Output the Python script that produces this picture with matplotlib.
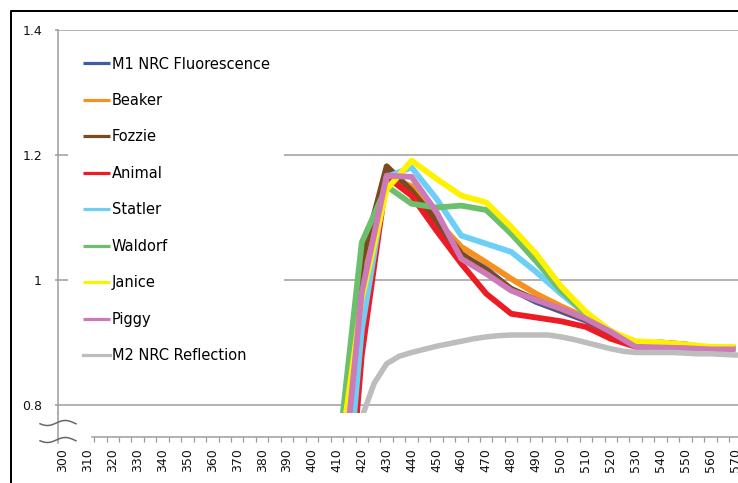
import matplotlib
matplotlib.use('Agg')
import matplotlib.pyplot as plt
import numpy as np
from matplotlib.lines import Line2D

# ---------------- data ----------------
wavelengths = [410, 420, 430, 440, 450, 460, 470, 480, 490, 500, 510, 520, 530, 540, 550, 560, 570]
m1_nrc_fluorescence = [0.62, 1.01, 1.175, 1.145, 1.090, 1.040, 1.018, 0.985, 0.965, 0.950, 0.935, 0.915, 0.895, 0.895, 0.893, 0.890, 0.890]
beaker = [0.61, 0.99, 1.165, 1.150, 1.095, 1.053, 1.028, 1.002, 0.978, 0.958, 0.940, 0.918, 0.898, 0.895, 0.893, 0.890, 0.890]
fozzie = [0.63, 1.03, 1.182, 1.143, 1.095, 1.042, 1.015, 0.986, 0.968, 0.952, 0.937, 0.916, 0.897, 0.900, 0.897, 0.890, 0.893]
animal = [0.40, 0.88, 1.165, 1.135, 1.079, 1.026, 0.978, 0.946, 0.940, 0.934, 0.925, 0.906, 0.893, 0.893, 0.892, 0.890, 0.891]
statler = [0.48, 0.92, 1.165, 1.180, 1.130, 1.071, 1.058, 1.045, 1.013, 0.978, 0.946, 0.918, 0.898, 0.895, 0.893, 0.890, 0.890]
waldorf = [0.70, 1.06, 1.150, 1.122, 1.116, 1.119, 1.112, 1.074, 1.030, 0.983, 0.946, 0.918, 0.898, 0.895, 0.893, 0.890, 0.890]
janice = [0.68, 0.97, 1.145, 1.191, 1.162, 1.135, 1.124, 1.085, 1.042, 0.990, 0.949, 0.918, 0.902, 0.900, 0.897, 0.893, 0.893]
piggy = [0.58, 0.98, 1.167, 1.165, 1.109, 1.034, 1.010, 0.983, 0.968, 0.954, 0.938, 0.917, 0.893, 0.892, 0.891, 0.889, 0.889]

reflection_wavelengths = [410, 415, 420, 425, 430, 435, 440, 445, 450, 455, 460, 465, 470, 475, 480, 485,
                          490, 495, 500, 505, 510, 515, 520, 525, 530, 535, 540, 545, 550, 555, 560, 565, 570]
m2_nrc_reflection = [0.55, 0.70, 0.78, 0.835, 0.866, 0.878, 0.884, 0.889, 0.894, 0.898, 0.902, 0.906, 0.909,
                     0.911, 0.912, 0.912, 0.912, 0.912, 0.909, 0.905, 0.900, 0.895, 0.890, 0.886, 0.884,
                     0.884, 0.884, 0.884, 0.883, 0.882, 0.882, 0.881, 0.880]

series_names = ["M1 NRC Fluorescence", "Beaker", "Fozzie", "Animal", "Statler",
                "Waldorf", "Janice", "Piggy", "M2 NRC Reflection"]
x_tick_values = list(range(300, 571, 10))
x_tick_labels = [str(v) for v in x_tick_values]
y_tick_values = [0.8, 1.0, 1.2, 1.4]
y_tick_labels = ["0.8", "1", "1.2", "1.4"]

colors = ["#3B5DAA", "#F7901E", "#7B4A1E", "#ED1C24", "#6DCFF6",
          "#6CBF6C", "#FFF200", "#CC7AB8", "#BDBDBD"]

# ---------------- figure ----------------
W, H = 738, 483
fig = plt.figure(figsize=(W / 100, H / 100), dpi=100)
PX = 72 / 100  # points per pixel

ax = fig.add_axes([58 / W, 1 - 413 / H, (738 - 58) / W, (413 - 30) / H])
ax.set_xlim(298.0, 571.1)
ax.set_ylim(0.7872, 1.4)

grid_c = "#9A9A9A"
for y in y_tick_values:
    ax.axhline(y, color=grid_c, lw=1.5 * PX, zorder=1)

colored = [m1_nrc_fluorescence, beaker, fozzie, animal, statler, waldorf, janice, piggy]
handles = []
for vals, name, c in zip(colored, series_names[:8], colors[:8]):
    h, = ax.plot(wavelengths, vals, color=c, lw=5.8 * PX, solid_joinstyle='round',
                 solid_capstyle='butt', label=name, zorder=3)
    handles.append(h)
h, = ax.plot(reflection_wavelengths, m2_nrc_reflection, color=colors[8], lw=5.5 * PX,
             solid_joinstyle='round', label=series_names[8], zorder=3)
handles.append(h)

# spines
for s in ["top", "right"]:
    ax.spines[s].set_visible(False)
ax.spines["left"].set_color(grid_c)
ax.spines["left"].set_linewidth(1.5 * PX)
ax.spines["bottom"].set_color(grid_c)
ax.spines["bottom"].set_linewidth(1.5 * PX)
ax.spines["bottom"].set_position(("outward", 24 * PX))
ax.spines["bottom"].set_bounds(311.6, 571.1)

# y ticks
ax.set_yticks(y_tick_values)
ax.set_yticklabels(y_tick_labels)
ax.tick_params(axis='y', direction='out', length=3 * PX, width=1.5 * PX, color=grid_c,
               pad=13 * PX, labelsize=9, labelcolor="#111111")

# x ticks
ax.set_xticks(x_tick_values)
ax.set_xticklabels(x_tick_labels, rotation=90, va='top', ha='center')
ax.tick_params(axis='x', which='major', length=0, pad=11 * PX, labelsize=9, labelcolor="#111111")
ax.set_xticks(np.arange(312.5, 571, 5), minor=True)
ax.tick_params(axis='x', which='minor', direction='out', length=4.5 * PX, width=1.2 * PX, color=grid_c)

# legend
leg = ax.legend(handles=handles, loc='upper left', bbox_to_anchor=(68 / W, 1 - 42 / H),
                bbox_transform=fig.transFigure, frameon=True, fancybox=False,
                fontsize=10.5, handlelength=1.85, handletextpad=0.15, labelspacing=1.47,
                borderpad=1.0, borderaxespad=0)
leg.get_frame().set_facecolor("white")
leg.get_frame().set_edgecolor("none")
leg.get_frame().set_alpha(1.0)
for lh in leg.get_lines():
    lh.set_linewidth(3.2 * PX)
leg.set_zorder(5)

# extension of the y axis through the break, and the break marks
fig.add_artist(Line2D([58 / W, 58 / W], [1 - 413 / H, 1 - 443 / H], color=grid_c, lw=1.5 * PX))
t = np.linspace(0, 1, 60)
for yc in (423, 440):
    xs = 40 + 36 * t
    ys = yc + 2.5 * np.sin(2 * np.pi * t * 1.0 + 0.3)
    fig.add_artist(Line2D(xs / W, 1 - ys / H, color="#666666", lw=1.5 * PX))

# outer black border
fig.add_artist(Line2D([11 / W, 11 / W, 1.0], [0.0, 1 - 11 / H, 1 - 11 / H], color="black", lw=2 * PX))

fig.savefig("out.png", dpi=100)
